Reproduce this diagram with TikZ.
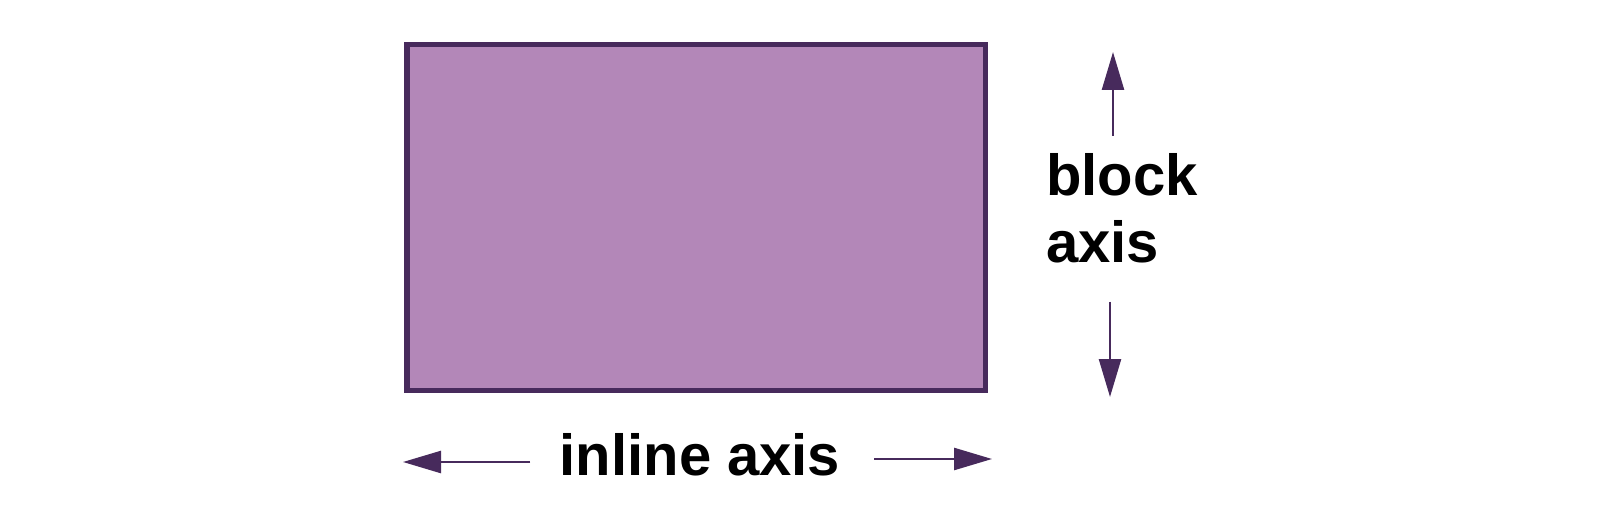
\documentclass[tikz,border=0pt]{standalone}
\usepackage{fontspec}
\setmainfont{Liberation Sans}
\usetikzlibrary{arrows.meta}
\definecolor{boxfill}{RGB}{179,135,184}
\definecolor{boxline}{RGB}{71,42,92}

\begin{document}
\begin{tikzpicture}[x=1pt, y=-1pt,
    axislabel/.style={font=\fontsize{58}{67}\selectfont\bfseries, inner sep=0pt},
    axisarrow/.style={draw=boxline, line width=2.5pt, -{Triangle[length=38pt, width=22pt]}, fill=boxline}]
  \useasboundingbox (0,0) rectangle (1600,510);
  \node[draw=boxline, fill=boxfill, line width=5.5pt, minimum width=578.5pt, minimum height=345.5pt] (box) at (696,217.5) {};

  \node[axislabel, anchor=base] (inlinelabel) at (700,475) {inline axis};
  \node[axislabel, anchor=north west, align=left] (blocklabel) at (1046,153) {block\\axis};

  \coordinate (lefttip) at (403,462);
  \coordinate (leftstart) at (530,462);
  \coordinate (rightstart) at (874,459);
  \coordinate (righttip) at (992,459);
  \coordinate (upstart) at (1113,136);
  \coordinate (uptip) at (1113,52);
  \coordinate (downstart) at (1110,302);
  \coordinate (downtip) at (1110,397);

  \draw[axisarrow] (leftstart) -- (lefttip);
  \draw[axisarrow] (rightstart) -- (righttip);
  \draw[axisarrow] (upstart) -- (uptip);
  \draw[axisarrow] (downstart) -- (downtip);
\end{tikzpicture}
\end{document}
